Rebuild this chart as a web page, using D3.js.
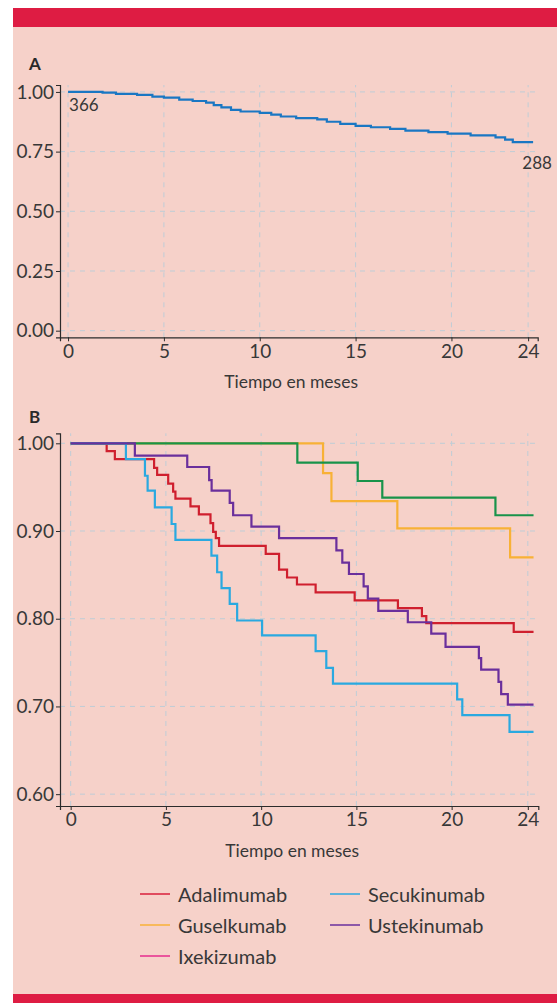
<!DOCTYPE html>
<html>
<head>
<meta charset="utf-8">
<script src="https://cdn.jsdelivr.net/npm/d3@7"></script>
<style>
  html, body { margin: 0; padding: 0; background: #ffffff; }
  svg { display: block; font-family: Lato, "Open Sans", sans-serif; }
</style>
</head>
<body>
<svg id="chart" width="557" height="1003"></svg>
<script>
// Panel A: supervivencia global (Kaplan-Meier)
const timesA = [0, 1.8, 2.5, 3.6, 4.4, 5.0, 5.8, 6.5, 7.2, 7.6, 8.0, 8.5, 9.0, 10.0, 10.6, 11.1, 11.9, 13.0, 13.5, 14.2, 15.0, 15.8, 16.8, 17.6, 18.8, 19.8, 21.0, 22.3, 22.8, 23.2, 24.26];
const survA  = [1.000, 0.997, 0.992, 0.988, 0.980, 0.976, 0.968, 0.962, 0.955, 0.945, 0.935, 0.925, 0.918, 0.912, 0.905, 0.897, 0.890, 0.885, 0.875, 0.866, 0.858, 0.852, 0.845, 0.838, 0.832, 0.825, 0.818, 0.810, 0.800, 0.790, 0.790];
const startLabel = "366";
const endLabel = "288";

// Panel B: por fármaco
const adaTimes = [0, 1.89, 2.32, 4.38, 4.54, 5.12, 5.38, 5.5, 6.29, 6.73, 7.34, 7.48, 7.62, 7.79, 10.24, 10.94, 11.36, 11.88, 12.86, 14.91, 17.18, 18.44, 18.67, 23.26, 24.3];
const adaSurv  = [1, 0.991, 0.982, 0.972, 0.964, 0.954, 0.945, 0.937, 0.928, 0.919, 0.909, 0.899, 0.892, 0.883, 0.874, 0.856, 0.847, 0.839, 0.830, 0.821, 0.812, 0.803, 0.795, 0.785, 0.785];
const gusTimes = [0, 13.25, 13.69, 17.15, 23.07, 24.3];
const gusSurv  = [1, 0.966, 0.934, 0.903, 0.870, 0.870];
const ixeTimes = [0, 11.9, 15.07, 16.36, 22.3, 24.3];
const ixeSurv  = [1, 0.978, 0.957, 0.938, 0.918, 0.918];
const secTimes = [0, 2.9, 3.9, 4.04, 4.42, 5.3, 5.5, 7.39, 7.69, 7.92, 8.35, 8.74, 10.05, 12.86, 13.42, 13.77, 20.29, 20.56, 23.04, 24.3];
const secSurv  = [1, 0.982, 0.963, 0.946, 0.927, 0.908, 0.890, 0.872, 0.853, 0.835, 0.817, 0.798, 0.781, 0.763, 0.744, 0.726, 0.708, 0.690, 0.671, 0.671];
const ustTimes = [0, 3.37, 6.12, 7.27, 7.4, 8.35, 8.53, 9.49, 10.94, 13.95, 14.26, 14.61, 15.38, 15.6, 16.15, 17.7, 18.93, 19.68, 21.43, 21.55, 22.46, 22.6, 22.95, 24.3];
const ustSurv  = [1, 0.986, 0.973, 0.958, 0.946, 0.932, 0.918, 0.905, 0.892, 0.878, 0.864, 0.851, 0.837, 0.823, 0.809, 0.796, 0.783, 0.768, 0.755, 0.742, 0.728, 0.714, 0.702, 0.702];

const drugNames   = ["Adalimumab", "Guselkumab", "Ixekizumab", "Secukinumab", "Ustekinumab"];
const lineColors  = ["#cf1f2e", "#f8b136", "#18934a", "#2aa9e0", "#6a2f9c"];
const legendColors = ["#d81e3a", "#f8b136", "#e62b8c", "#2aa9e0", "#6a2f9c"];
const seriesB = [
  [adaTimes, adaSurv], [gusTimes, gusSurv], [ixeTimes, ixeSurv], [secTimes, secSurv], [ustTimes, ustSurv]
];

const xTicks = [0, 5, 10, 15, 20, 24];
const yTicksA = [0, 0.25, 0.5, 0.75, 1];
const yTicksB = [0.6, 0.7, 0.8, 0.9, 1];
const axisTitle = "Tiempo en meses";

const svg = d3.select("#chart");
const bg = "#f6d1c9";
const band = "#de1c43";
const textCol = "#383838";
const gridCol = "#bfcdd6";

// fondo y bandas
svg.append("rect").attr("x", 13).attr("y", 8).attr("width", 544).attr("height", 995).attr("fill", bg);
svg.append("rect").attr("x", 13).attr("y", 8).attr("width", 544).attr("height", 19).attr("fill", band);
svg.append("rect").attr("x", 13).attr("y", 994).attr("width", 544).attr("height", 9).attr("fill", band);

function panel(opts) {
  const { x, y, yTicks, fmt, label, labelY } = opts;
  const g = svg.append("g");

  // rejilla
  g.selectAll(".gx").data(xTicks).join("line")
    .attr("x1", d => x(d)).attr("x2", d => x(d))
    .attr("y1", y.range()[0]).attr("y2", y.range()[1])
    .attr("stroke", gridCol).attr("stroke-width", 1).attr("stroke-dasharray", "5,5");
  g.selectAll(".gy").data(yTicks).join("line")
    .attr("x1", x.range()[0]).attr("x2", x.range()[1])
    .attr("y1", d => y(d)).attr("y2", d => y(d))
    .attr("stroke", gridCol).attr("stroke-width", 1).attr("stroke-dasharray", "5,5");

  // ejes
  const ax = g.append("g").attr("transform", `translate(0,${y.range()[0]})`)
    .call(d3.axisBottom(x).tickValues(xTicks).tickSizeOuter(0).tickSize(4).tickPadding(3));
  const ay = g.append("g").attr("transform", `translate(${x.range()[0]},0)`)
    .call(d3.axisLeft(y).tickValues(yTicks).tickFormat(fmt).tickSizeOuter(0).tickSize(4).tickPadding(2));
  [ax, ay].forEach(a => {
    a.select(".domain").attr("stroke", "#2b2b2b").attr("stroke-width", 1.2);
    a.selectAll(".tick line").attr("stroke", "#2b2b2b");
    a.selectAll("text").attr("fill", textCol).style("font-size", "19px").style("font-family", "Lato, sans-serif");
  });

  g.append("text").attr("x", (x(0) + x(24)) / 2 - 7).attr("y", y.range()[0] + 51)
    .attr("text-anchor", "middle").attr("fill", textCol).style("font-size", "17.5px")
    .text(axisTitle);

  g.append("text").attr("x", 29).attr("y", labelY)
    .attr("fill", "#2a2a2a").style("font-size", "17px").style("font-weight", "bold")
    .text(label);
  return g;
}

// ---- Panel A ----
const xA = d3.scaleLinear().domain([-0.42, 24.5]).range([60, 537.7]);
const yA = d3.scaleLinear().domain([-0.0277, 1.029]).range([337.3, 85]);
const gA = panel({ x: xA, y: yA, yTicks: yTicksA, fmt: d3.format(".2f"), label: "A", labelY: 70 });

const stepLineA = d3.line().curve(d3.curveStepAfter).x(d => xA(d[0])).y(d => yA(d[1]));
gA.append("path")
  .datum(d3.zip(timesA, survA))
  .attr("d", stepLineA)
  .attr("fill", "none").attr("stroke", "#1a77c3").attr("stroke-width", 2.2);

gA.append("text").attr("x", xA(0) + 1).attr("y", yA(survA[0]) + 19)
  .attr("fill", textCol).style("font-size", "17px").text(startLabel);
gA.append("text").attr("x", xA(timesA[timesA.length - 1]) + 4).attr("y", yA(survA[survA.length - 1]) + 27)
  .attr("text-anchor", "middle").attr("fill", textCol).style("font-size", "17px").text(endLabel);

// ---- Panel B ----
const xB = d3.scaleLinear().domain([-0.56, 24.55]).range([60, 538.3]);
const yB = d3.scaleLinear().domain([0.5865, 1.0114]).range([806, 433.3]);
const gB = panel({ x: xB, y: yB, yTicks: yTicksB, fmt: d3.format(".2f"), label: "B", labelY: 423 });

const stepLineB = d3.line().curve(d3.curveStepAfter).x(d => xB(d[0])).y(d => yB(d[1]));
gB.selectAll(".km").data(seriesB).join("path")
  .attr("d", d => stepLineB(d3.zip(d[0], d[1])))
  .attr("fill", "none")
  .attr("stroke", (d, i) => lineColors[i])
  .attr("stroke-width", 2.2);

// ---- Leyenda ----
const legend = svg.append("g");
const legItems = legend.selectAll("g").data(drugNames).join("g")
  .attr("transform", (d, i) => {
    const col = i < 3 ? 0 : 1;
    const row = i < 3 ? i : i - 3;
    return `translate(${col ? 330 : 140},${894 + row * 31})`;
  });
legItems.append("line").attr("x1", 0).attr("x2", 30).attr("y1", 0).attr("y2", 0)
  .attr("stroke", (d, i) => legendColors[i]).attr("stroke-width", 1.5);
legItems.append("text").attr("x", 38).attr("y", 8)
  .attr("fill", textCol).style("font-size", "20px").text(d => d);
</script>
</body>
</html>
